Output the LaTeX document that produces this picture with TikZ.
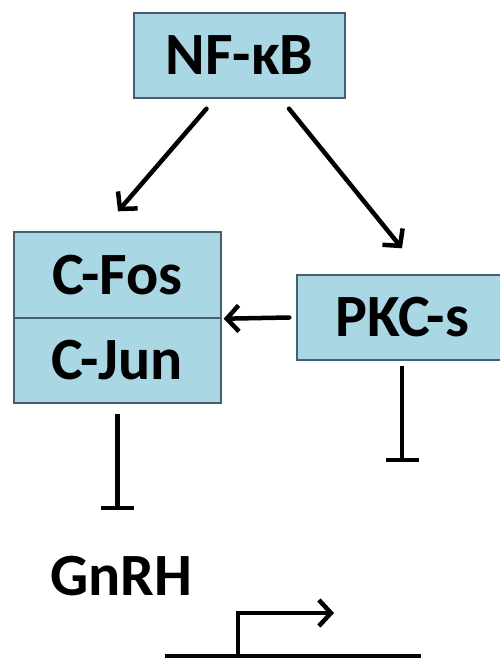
\documentclass[tikz,border=0pt]{standalone}
\usepackage{fontspec}
\setmainfont{Carlito}
\usetikzlibrary{arrows.meta}
\definecolor{boxfill}{RGB}{170,215,228}
\definecolor{boxline}{RGB}{70,95,110}
\begin{document}
\begin{tikzpicture}[x=1pt,y=-1pt,
  genebox/.style={draw=boxline,line width=1.4pt,fill=boxfill,rectangle,inner sep=0pt,
    font=\fontsize{60}{61}\selectfont\bfseries,text height=38pt,text depth=0pt},
  arr/.style={line width=4.5pt,line cap=round,line join=round,-{Straight Barb[length=12pt,width=26pt,line width=4.5pt]}},
  inh/.style={line width=4.5pt,-{Bar[width=33pt,line width=4.5pt]}},
  plain/.style={line width=4.5pt}]
\clip (0,0) rectangle (500,658);
\fill[white] (0,0) rectangle (500,658);
\node[genebox,minimum width=211pt,minimum height=85pt] (nfkb) at (239.5,55.5) {NF-κB};
\node[genebox,minimum width=207pt,minimum height=86pt] (fos) at (117.5,275) {C-Fos};
\node[genebox,minimum width=207pt,minimum height=85pt] (jun) at (117.5,360.5) {C-Jun};
\node[genebox,minimum width=211pt,minimum height=85pt] (pkc) at (402.5,317.5) {PKC-s};
\node[font=\fontsize{60}{61}\selectfont\bfseries,inner sep=0pt,text height=38pt,text depth=0pt] (gnrh) at (121.5,576.5) {GnRH};
\draw[arr] ([shift={(-33,10)}]nfkb.south) -- ([shift={(0.5,-20)}]fos.north);
\draw[arr] ([shift={(49.5,10)}]nfkb.south) -- ([shift={(-0.5,-26)}]pkc.north);
\draw[arr] ([shift={(-7,0)}]pkc.west) -- ([shift={(2,0)}]fos.south east);
\coordinate (jinh) at (117.5,510);
\coordinate (pinh) at (402,462);
\draw[inh] ([shift={(0,10)}]jun.south) -- (jinh);
\draw[inh] ([shift={(-0.5,5)}]pkc.south) -- (pinh);
\coordinate (p1) at (165,656);
\coordinate (p2) at (421,656);
\coordinate (tss) at (238,656);
\coordinate (tsstop) at (238,613);
\coordinate (tssend) at (334,613);
\draw[plain] (p1) -- (p2);
\draw[arr,line cap=butt,line join=miter] (tss) -- (tsstop) -- (tssend);
\end{tikzpicture}
\end{document}
